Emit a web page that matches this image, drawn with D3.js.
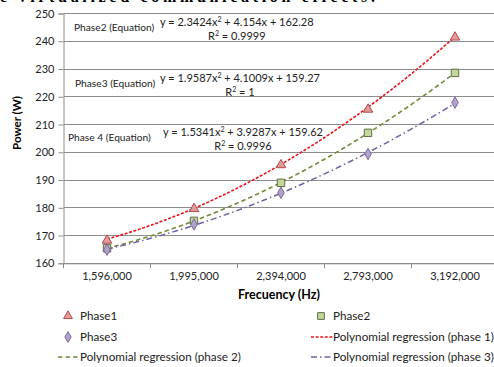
<!DOCTYPE html>
<html><head><meta charset="utf-8">
<script src="https://cdn.jsdelivr.net/npm/d3@7"></script>
<style>body{margin:0;background:#fff;overflow:hidden}svg{display:block}</style>
</head><body><svg id="c" width="494" height="367"></svg>
<script>
const categories = ["1,596,000","1,995,000","2,394,000","2,793,000","3,192,000"];
const phase1 = [168.6, 180.0, 195.8, 215.8, 241.8];
const phase2 = [165.4, 175.3, 189.0, 207.0, 228.6];
const phase3 = [164.9, 174.0, 185.4, 199.4, 217.9];
const yTicks = [160,170,180,190,200,210,220,230,240,250];
const equations = [
  {label:"Phase2 (Equation)", eq:["2.3424","4.154","162.28"], r2:"0.9999"},
  {label:"Phase3 (Equation)", eq:["1.9587","4.1009","159.27"], r2:"1"},
  {label:"Phase 4 (Equation)", eq:["1.5341","3.9287","159.62"], r2:"0.9996"}
];
const legendItems = ["Phase1","Phase2","Phase3","Polynomial regression (phase 1)","Polynomial regression (phase 2)","Polynomial regression (phase 3)"];

const FONT = "Lato, 'Open Sans', sans-serif";
const svg = d3.select("#c");
const L = 63.5, R = 498.5, T = 13.5, B = 263.3;
const x = d3.scaleBand().domain(categories).range([L, R]);
const y = d3.scaleLinear().domain([160, 250]).range([B, T]);
const cx = i => x(categories[i]) + x.bandwidth()/2;

// clipped page text at top
svg.append("text").attr("x", 0).attr("y", 1.5).attr("font-family","'Liberation Serif', serif")
  .attr("font-weight","bold").attr("font-size", 16).attr("fill","#000")
  .attr("textLength", 375).text("e  virtualized communication effects.");

// gridlines
svg.append("g").selectAll("line").data(yTicks).join("line")
  .attr("x1", L).attr("x2", R).attr("y1", d=>y(d)).attr("y2", d=>y(d))
  .attr("stroke", "#8c8c8c").attr("stroke-width", 1).attr("shape-rendering","crispEdges");

// y axis
const ya = svg.append("g").attr("transform", `translate(${L},0)`)
  .call(d3.axisLeft(y).tickValues(yTicks).tickSize(5).tickPadding(4).tickFormat(d3.format("d")));
ya.select(".domain").attr("stroke","#8c8c8c");
ya.selectAll(".tick line").attr("stroke","#8c8c8c");
ya.selectAll("text").attr("font-family", FONT).attr("font-size", 11).attr("fill","#222");

// x axis
const xa = svg.append("g").attr("transform", `translate(0,${B})`)
  .call(d3.axisBottom(x).tickSize(0).tickPadding(9));
xa.select(".domain").attr("stroke","#8c8c8c");
xa.selectAll("text").attr("font-family", FONT).attr("font-size", 11).attr("fill","#222");
svg.append("g").selectAll("line").data(d3.range(categories.length+1)).join("line")
  .attr("x1", i=>L + i*x.bandwidth()).attr("x2", i=>L + i*x.bandwidth())
  .attr("y1", B).attr("y2", B+5).attr("stroke","#8c8c8c");

// axis titles
svg.append("text").attr("transform","translate(21,123) rotate(-90)").attr("text-anchor","middle")
  .attr("font-family",FONT).attr("font-weight","bold").attr("font-size",11.5).text("Power (W)");
svg.append("text").attr("x", 279).attr("y", 299).attr("text-anchor","middle")
  .attr("font-family",FONT).attr("font-weight","bold").attr("font-size",12.5).text("Frecuency (Hz)");

// least-squares quadratic fit on index 1..n
function fit(vals){
  let S=[0,0,0,0,0], T2=[0,0,0];
  vals.forEach((v,i)=>{const t=i+1; for(let k=0;k<5;k++)S[k]+=Math.pow(t,k); for(let k=0;k<3;k++)T2[k]+=v*Math.pow(t,k);});
  const A=[[S[0],S[1],S[2],T2[0]],[S[1],S[2],S[3],T2[1]],[S[2],S[3],S[4],T2[2]]];
  for(let i=0;i<3;i++){for(let j=i+1;j<3;j++){const f=A[j][i]/A[i][i];for(let k=i;k<4;k++)A[j][k]-=f*A[i][k];}}
  const c=[0,0,0];for(let i=2;i>=0;i--){let s=A[i][3];for(let k=i+1;k<3;k++)s-=A[i][k]*c[k];c[i]=s/A[i][i];}
  return t=>c[0]+c[1]*t+c[2]*t*t;
}
const step = x.step();
const tx = t => cx(0) + (t-1)*step;
const styles = [
  {vals:phase1, color:"#e8141c", dash:"3,1.6", w:1.6},
  {vals:phase2, color:"#6f8a3a", dash:"4.5,3", w:1.6},
  {vals:phase3, color:"#7060a0", dash:"6,3,1.5,3", w:1.5}
];
const line = d3.line().x(d=>tx(d[0])).y(d=>y(d[1]));
styles.forEach(s=>{
  const f = fit(s.vals);
  const pts = d3.range(1, 5.001, 0.05).map(t=>[t, f(t)]);
  svg.append("path").attr("d", line(pts)).attr("fill","none").attr("stroke", s.color)
    .attr("stroke-width", s.w).attr("stroke-dasharray", s.dash);
});

// markers
const tri = d3.symbol().type(d3.symbolTriangle).size(40);
const sq = d3.symbol().type(d3.symbolSquare).size(55);
const dia = d3.symbol().type(d3.symbolDiamond).size(38);
const mk = [
  {vals:phase1, sym:tri, fill:"#e39a9a", stroke:"#b04a4a", dy:1},
  {vals:phase2, sym:sq, fill:"#c4d79b", stroke:"#5f6b47", dy:0},
  {vals:phase3, sym:dia, fill:"#b2a1cc", stroke:"#7a68a0", dy:0}
];
mk.forEach(m=>{
  svg.append("g").selectAll("path").data(m.vals).join("path")
    .attr("d", m.sym).attr("transform",(d,i)=>`translate(${cx(i)},${y(d)+m.dy})`)
    .attr("fill", m.fill).attr("stroke", m.stroke).attr("stroke-width", 1);
});

// equations
const eqPos = [{lx:74, ly:31, ex:160, ey:26, ry:40},{lx:75, ly:87, ex:160, ey:82, ry:96},{lx:68, ly:141, ex:163, ey:136, ry:150}];
equations.forEach((e,i)=>{
  const p = eqPos[i];
  svg.append("text").attr("x",p.lx).attr("y",p.ly).attr("font-family",FONT).attr("font-size",10.2).attr("fill","#222").text(e.label);
  const t = svg.append("text").attr("x",p.ex).attr("y",p.ey).attr("font-family",FONT).attr("font-size",11).attr("fill","#222");
  t.append("tspan").text(`y = ${e.eq[0]}x`);
  t.append("tspan").attr("font-size",7).attr("dy",-4).text("2");
  t.append("tspan").attr("dy",4).text(` + ${e.eq[1]}x + ${e.eq[2]}`);
  const w = t.node().getComputedTextLength();
  const r = svg.append("text").attr("x",p.ex + w/2).attr("y",p.ry).attr("text-anchor","middle").attr("font-family",FONT).attr("font-size",11).attr("fill","#222");
  r.append("tspan").text("R");
  r.append("tspan").attr("font-size",7).attr("dy",-4).text("2");
  r.append("tspan").attr("dy",4).text(` = ${e.r2}`);
});

// legend
const lg = svg.append("g").attr("font-family",FONT).attr("font-size",11.7).attr("fill","#222");
const rows = [316, 337, 357];
const leg = [
  {x:80, y:rows[0], text:legendItems[0], sym:mk[0]},
  {x:333, y:rows[0], text:legendItems[1], sym:mk[1]},
  {x:80, y:rows[1], text:legendItems[2], sym:mk[2]},
  {x:333, y:rows[1], text:legendItems[3], line:styles[0]},
  {x:80, y:rows[2], text:legendItems[4], line:styles[1]},
  {x:333, y:rows[2], text:legendItems[5], line:styles[2]}
];
leg.forEach(l=>{
  if(l.sym){
    lg.append("path").attr("d", l.sym.sym.size(l.sym.sym===sq?45:34)()).attr("transform",`translate(${l.x-12},${l.y})`)
      .attr("fill", l.sym.fill).attr("stroke", l.sym.stroke);
  } else {
    lg.append("line").attr("x1", l.x-22).attr("x2", l.x).attr("y1", l.y).attr("y2", l.y)
      .attr("stroke", l.line.color).attr("stroke-width", 1.5).attr("stroke-dasharray", l.line.dash);
  }
  lg.append("text").attr("x", l.x).attr("y", l.y+4).text(l.text);
});
</script></body></html>
